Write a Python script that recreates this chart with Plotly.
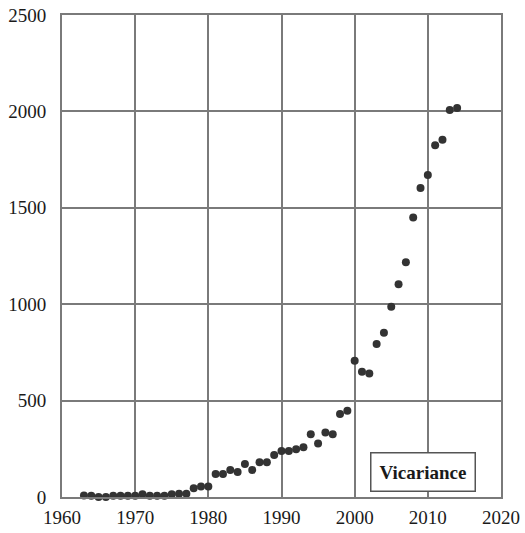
import plotly.graph_objects as go

years = list(range(1963, 2015))
counts = [8, 6, 0, 0, 6, 7, 7, 7, 14, 7, 7, 7, 14, 17, 17, 45, 55, 55,
          119, 119, 140, 130, 171, 140, 180, 180, 218, 239, 239, 248, 258,
          325, 278, 334, 325, 430, 448,
          707, 650, 640, 794, 852, 987, 1103, 1217, 1450, 1603, 1670,
          1824, 1853, 2007, 2018]

x_ticks = [1960, 1970, 1980, 1990, 2000, 2010, 2020]
y_ticks = [0, 500, 1000, 1500, 2000, 2500]
label = "Vicariance"

grid = "#7a7a7a"
font = dict(family="Liberation Serif, serif", size=19, color="#1a1a1a")

fig = go.Figure()
fig.add_trace(go.Scatter(x=years, y=counts, mode="markers",
                         marker=dict(color="#333333", size=8),
                         showlegend=False, cliponaxis=False))

fig.update_xaxes(range=[1960, 2020], tickvals=x_ticks, ticktext=[str(v) for v in x_ticks],
                 showgrid=True, gridcolor=grid, gridwidth=2, automargin=False,
                 showline=True, linecolor=grid, linewidth=2, mirror=True,
                 zeroline=False, ticks="", tickfont=font, ticklabelstandoff=2)
fig.update_yaxes(range=[0, 2500], tickvals=y_ticks, ticktext=[str(v) for v in y_ticks],
                 showgrid=True, gridcolor=grid, gridwidth=2, automargin=False,
                 showline=True, linecolor=grid, linewidth=2, mirror=True,
                 zeroline=False, ticks="", tickfont=font, ticklabelstandoff=10)

fig.add_annotation(x=2009.3, y=130, text="<b>" + label + "</b>", showarrow=False,
                   font=dict(family="Liberation Serif, serif", size=19, color="#1a1a1a"),
                   bgcolor="white", bordercolor="#555", borderwidth=1.5, borderpad=8)

fig.update_layout(width=525, height=533, margin=dict(l=62, r=24, t=15, b=36),
                  plot_bgcolor="white", paper_bgcolor="white")

fig.write_html("out.html")
